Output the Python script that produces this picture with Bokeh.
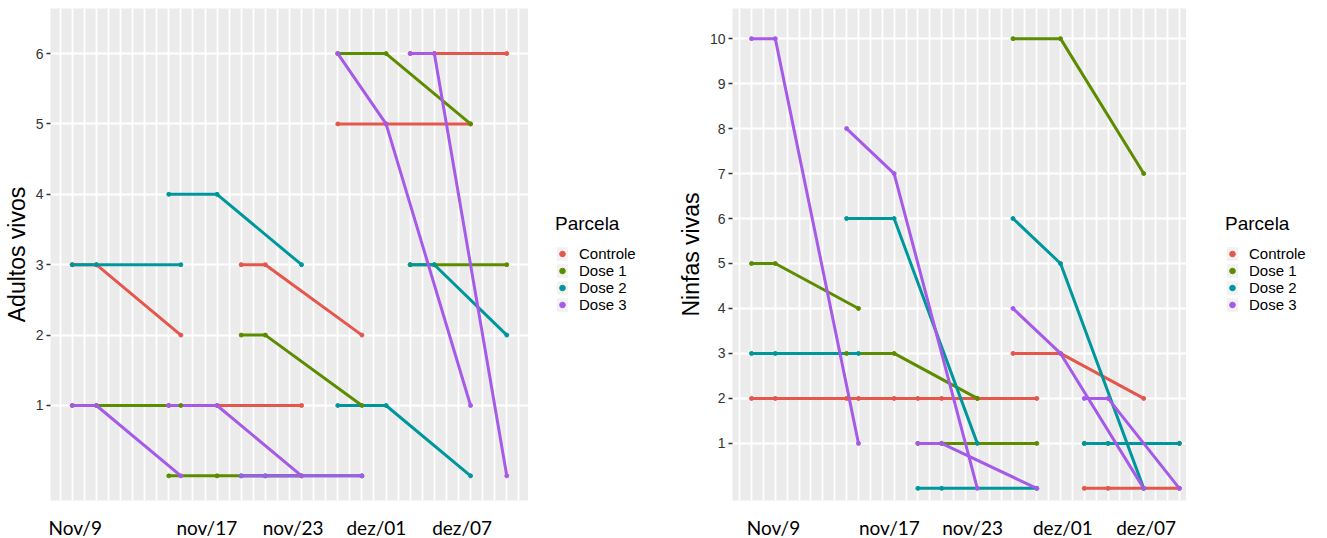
import pandas as pd
from bokeh.plotting import figure
from bokeh.models import FixedTicker, Legend, LegendItem, Range1d
from bokeh.layouts import row
from bokeh.embed import file_html
from bokeh.resources import INLINE

# ---------------- data ----------------
parcelas = ["Controle", "Dose 1", "Dose 2", "Dose 3"]
cores = ["#E4574C", "#5C8C00", "#00979C", "#A65BE8"]

# evaluation dates: five evaluation blocks, three readings each
datas = ["2020-11-09", "2020-11-11", "2020-11-18",
         "2020-11-17", "2020-11-21", "2020-11-28",
         "2020-11-23", "2020-11-25", "2020-12-03",
         "2020-12-01", "2020-12-05", "2020-12-12",
         "2020-12-07", "2020-12-09", "2020-12-15"]
avaliacao = [1, 1, 1, 2, 2, 2, 3, 3, 3, 4, 4, 4, 5, 5, 5]

adultos_controle = [3, 3, 2, 1, 1, 1, 3, 3, 2, 5, 5, 5, 6, 6, 6]
adultos_dose1 = [1, 1, 1, 0, 0, 0, 2, 2, 1, 6, 6, 5, 3, 3, 3]
adultos_dose2 = [3, 3, 3, 4, 4, 3, 0, 0, 0, 1, 1, 0, 3, 3, 2]
adultos_dose3 = [1, 1, 0, 1, 1, 0, 0, 0, 0, 6, 5, 1, 6, 6, 0]

ninfas_controle = [2, 2, 2, 2, 2, 2, 2, 2, 2, 3, 3, 2, 0, 0, 0]
ninfas_dose1 = [5, 5, 4, 3, 3, 2, 1, 1, 1, 10, 10, 7, 1, 1, 1]
ninfas_dose2 = [3, 3, 3, 6, 6, 1, 0, 0, 0, 6, 5, 0, 1, 1, 1]
ninfas_dose3 = [10, 10, 1, 8, 7, 0, 1, 1, 0, 4, 3, 0, 2, 2, 0]

ticks_adultos = [1, 2, 3, 4, 5, 6]
ticks_ninfas = [1, 2, 3, 4, 5, 6, 7, 8, 9, 10]
rotulos_x = ["Nov/9", "nov/17", "nov/23", "dez/01", "dez/07"]

# ---------------- layout (positions of the hand-placed date captions, in days) ----------------
pos_rotulos_adultos = [0.25, 11.15, 18.3, 25.2, 32.3]
pos_rotulos_ninfas = [1.85, 11.6, 18.6, 26.2, 33.2]

t = pd.to_datetime(pd.Series(datas))
dias = [int(d) for d in (t - t.iloc[0]).dt.days]
blocos = sorted(set(avaliacao))

FONT = "Liberation Sans"


def painel(series, titulo_y, yticks, xr, yr, frame_w, borda_esq, pos_rotulos):
    p = figure(frame_width=frame_w, frame_height=492,
               x_range=Range1d(*xr), y_range=Range1d(*yr),
               output_backend="svg", toolbar_location=None,
               min_border_left=borda_esq, min_border_right=0,
               min_border_top=8, min_border_bottom=38)
    p.background_fill_color = "#EBEBEB"
    p.border_fill_color = "white"
    p.outline_line_color = None

    # grid
    p.yaxis.ticker = FixedTicker(ticks=yticks)
    p.xaxis.ticker = FixedTicker(ticks=pos_rotulos)
    p.xgrid.ticker = FixedTicker(ticks=list(range(-2, 40)))
    for g in (p.xgrid, p.ygrid):
        g.grid_line_color = "white"
        g.grid_line_width = 1.8
        g.minor_grid_line_color = None

    # x axis: only the date captions
    p.xaxis.major_label_overrides = {float(v): s for v, s in zip(pos_rotulos, rotulos_x)}
    p.xaxis.axis_line_color = None
    p.xaxis.major_tick_line_color = None
    p.xaxis.minor_tick_line_color = None
    p.xaxis.major_tick_out = 0
    p.xaxis.major_tick_in = 0
    p.xaxis.major_label_standoff = 15
    p.xaxis.major_label_text_font = "Lato"
    p.xaxis.major_label_text_font_size = "19px"
    p.xaxis.major_label_text_color = "black"

    # y axis
    p.yaxis.axis_line_color = None
    p.yaxis.minor_tick_line_color = None
    p.yaxis.major_tick_line_color = "#333333"
    p.yaxis.major_tick_line_width = 1.5
    p.yaxis.major_tick_out = 4
    p.yaxis.major_tick_in = 0
    p.yaxis.major_label_standoff = 3
    p.yaxis.major_label_text_font = FONT
    p.yaxis.major_label_text_font_size = "14px"
    p.yaxis.major_label_text_color = "#333333"
    p.yaxis.axis_label = titulo_y
    p.yaxis.axis_label_text_font = FONT
    p.yaxis.axis_label_text_font_style = "normal"
    p.yaxis.axis_label_text_font_size = "23px"
    p.yaxis.axis_label_text_color = "black"
    p.yaxis.axis_label_standoff = 3

    for nome, cor, ys in zip(parcelas, cores, series):
        for b in blocos:
            idx = [i for i, a in enumerate(avaliacao) if a == b]
            p.line(x=[dias[i] for i in idx], y=[ys[i] for i in idx],
                   line_color=cor, line_width=3.0, line_join="round")
    for nome, cor, ys in zip(parcelas, cores, series):
        p.scatter(x=dias, y=ys, size=4, fill_color=cor, line_color=cor)
    return p


def legenda(series, largura, pos_x, pos_y):
    # a white side panel holding only the legend; its glyph renderers reuse the
    # series data but the panel's ranges keep them out of view
    f = figure(width=largura, height=538, x_range=Range1d(-1000, -999),
               y_range=Range1d(-1000, -999),
               output_backend="svg", toolbar_location=None,
               min_border_left=0, min_border_right=0, min_border_top=0, min_border_bottom=0)
    f.axis.visible = False
    f.grid.visible = False
    f.outline_line_color = None
    f.background_fill_color = "white"
    f.border_fill_color = "white"
    chave = f.quad(left=dias, right=dias, bottom=series[0], top=series[0],
                   fill_color="#F2F2F2", line_color=None)
    itens = []
    for nome, cor, ys in zip(parcelas, cores, series):
        r = f.scatter(x=dias, y=ys, size=4, fill_color=cor, line_color=cor)
        itens.append(LegendItem(label=nome, renderers=[chave, r]))
    leg = Legend(items=itens, title="Parcela", location=(pos_x, pos_y))
    leg.title_text_font = FONT
    leg.title_text_font_size = "19px"
    leg.title_text_font_style = "normal"
    leg.title_text_color = "black"
    leg.title_standoff = 10
    leg.label_text_font = FONT
    leg.label_text_font_size = "15px"
    leg.label_text_color = "black"
    leg.label_standoff = 10
    leg.label_height = 17
    leg.glyph_height = 17
    leg.glyph_width = 14
    leg.spacing = 0
    leg.padding = 0
    leg.margin = 0
    leg.border_line_color = None
    leg.background_fill_alpha = 0
    f.add_layout(leg, "center")
    return f


serie_adultos = [adultos_controle, adultos_dose1, adultos_dose2, adultos_dose3]
serie_ninfas = [ninfas_controle, ninfas_dose1, ninfas_dose2, ninfas_dose3]

p1 = painel(serie_adultos, "Adultos vivos", ticks_adultos, (-1.8, 37.8), (-0.35, 6.64),
            478, 49, pos_rotulos_adultos)
l1 = legenda(serie_adultos, 133, 27, 184)
p2 = painel(serie_ninfas, "Ninfas vivas", ticks_ninfas, (-1.6, 36.6), (-0.27, 10.67),
            454, 71, pos_rotulos_ninfas)
l2 = legenda(serie_ninfas, 142, 39, 184)

layout = row(p1, l1, p2, l2, spacing=0)
open("out.html", "w").write(file_html(layout, INLINE))
